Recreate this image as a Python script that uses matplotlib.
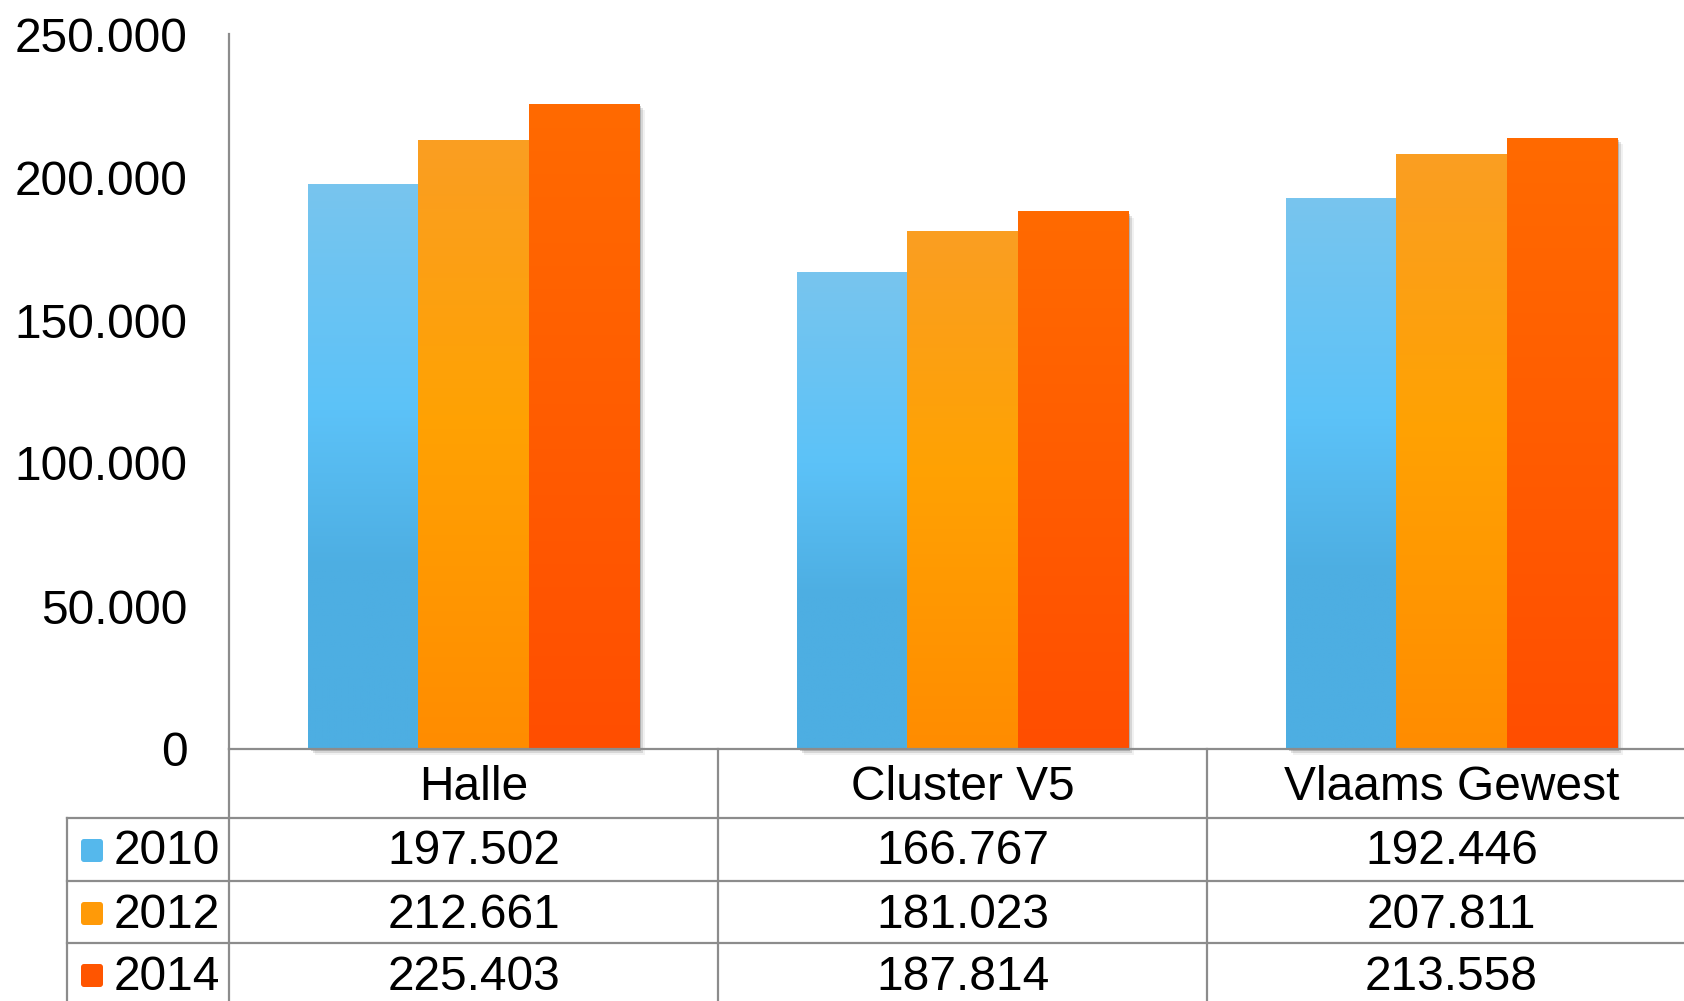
import numpy as np
import matplotlib
matplotlib.use("Agg")
import matplotlib.pyplot as plt
from matplotlib.colors import LinearSegmentedColormap
from matplotlib.patches import Rectangle, FancyBboxPatch
from matplotlib.lines import Line2D

plt.rcParams['font.family'] = ['Liberation Sans', 'DejaVu Sans']

# data
categories = ["Halle", "Cluster V5", "Vlaams Gewest"]
years = ["2010", "2012", "2014"]
v2010 = [197502, 166767, 192446]
v2012 = [212661, 181023, 207811]
v2014 = [225403, 187814, 213558]
yticks = [0, 50000, 100000, 150000, 200000, 250000]

series = [v2010, v2012, v2014]
# gradient stops top -> bottom
grads = [
    [(0.0, "#78C5EE"), (0.4, "#5CC2F8"), (0.68, "#4DAEE2"), (1.0, "#4DAEE2")],
    [(0.0, "#FA9E22"), (0.45, "#FFA203"), (1.0, "#FF8C00")],
    [(0.0, "#FF6A00"), (0.5, "#FF5C00"), (1.0, "#FF4E00")],
]
key_colors = ["#55B8EC", "#FF9A08", "#FF5500"]

W, H = 1684, 1001
fig = plt.figure(figsize=(W / 100, H / 100), dpi=100)

# layout in pixels
ax_left, ax_bottom_px, ax_top_px = 229, 749, 34
col_w = 489
ax = fig.add_axes([ax_left / W, (H - ax_bottom_px) / H,
                   3 * col_w / W, (ax_bottom_px - ax_top_px) / H])

grey = "#8C8C8C"
bw = 0.225
grad_img = np.linspace(0, 1, 256).reshape(-1, 1)
for s, vals in enumerate(series):
    cmap = LinearSegmentedColormap.from_list("g%d" % s, grads[s])
    for i, v in enumerate(vals):
        x0 = i + (s - 1) * bw - bw / 2
        # soft shadow on the right/bottom
        for k, a in zip([3, 6, 9], [0.25, 0.15, 0.07]):
            ax.add_patch(Rectangle((x0 + k * 0.0015, -k * 230), bw, v,
                                   facecolor="#404040", edgecolor="none",
                                   alpha=a, zorder=1, clip_on=False))
        ax.imshow(grad_img, cmap=cmap, aspect="auto", origin="upper",
                  extent=(x0, x0 + bw, 0, v), zorder=2, interpolation="bilinear")

ax.set_xlim(-0.5, 2.5)
ax.set_ylim(0, 250000)
ax.set_yticks(yticks)
ax.set_yticklabels(["0" if t == 0 else f"{t:,}".replace(",", ".") for t in yticks],
                   fontsize=34.5)
ax.tick_params(axis="y", length=0, pad=30)
ax.set_xticks([])
for sp in ["top", "right"]:
    ax.spines[sp].set_visible(False)
ax.spines["left"].set_color(grey)
ax.spines["left"].set_linewidth(1.6)
ax.spines["bottom"].set_color(grey)
ax.spines["bottom"].set_linewidth(1.6)
ax.spines["bottom"].set_zorder(3)
ax.patch.set_alpha(0)

# data table below the chart (pixel coords)
tab = fig.add_axes([0, 0, 1, 1], zorder=-1)
tab.set_xlim(0, W)
tab.set_ylim(H, 0)
tab.axis("off")

row_y = [749, 818, 881, 943]
row_h = 62
tbl_left = 67
lw = 1.6
for y in row_y[1:]:
    tab.add_line(Line2D([tbl_left, W], [y, y], color=grey, lw=lw))
tab.add_line(Line2D([tbl_left, tbl_left], [row_y[1], H], color=grey, lw=lw))
for j in range(3):
    xc = ax_left + j * col_w
    tab.add_line(Line2D([xc, xc], [row_y[0], H], color=grey, lw=lw))

for j, cat in enumerate(categories):
    xc = ax_left + (j + 0.5) * col_w
    tab.text(xc, (row_y[0] + row_y[1]) / 2 + 4, cat, fontsize=34.5,
             ha="center", va="center")

for s, vals in enumerate(series):
    yc = row_y[s + 1] + row_h / 2 + 2
    tab.add_patch(FancyBboxPatch((81, yc - 12), 22, 23,
                                 boxstyle="round,pad=0,rounding_size=3",
                                 facecolor=key_colors[s], edgecolor="none"))
    tab.text(114, yc + 1, years[s], fontsize=34.5, ha="left", va="center")
    for j, v in enumerate(vals):
        xc = ax_left + (j + 0.5) * col_w
        tab.text(xc, yc + 1, f"{v:,}".replace(",", "."), fontsize=34.5,
                 ha="center", va="center")

fig.savefig("out.png", dpi=100)
